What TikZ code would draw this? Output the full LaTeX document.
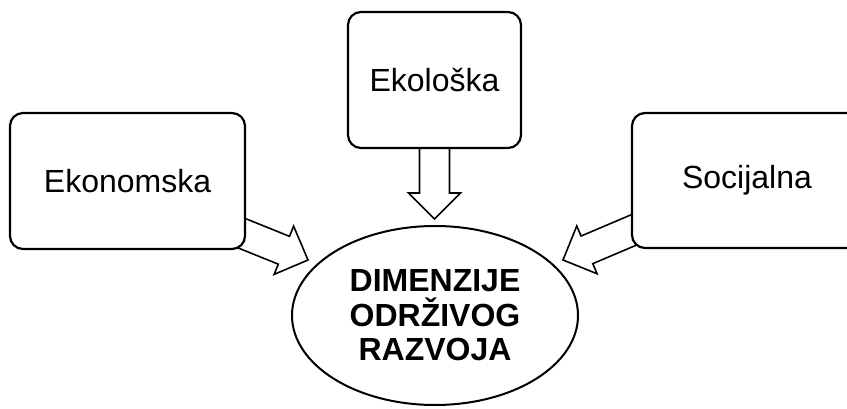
\documentclass[tikz,border=0pt]{standalone}
\usepackage{fontspec}
\setmainfont{Liberation Sans}
\usetikzlibrary{shapes.geometric}
\tikzset{
  dimbox/.style={draw, line width=2.2pt, rounded corners=13pt, fill=white, inner sep=0pt,
    font=\fontsize{32}{37}\selectfont},
  blockarrow/.pic={
    \draw[line width=1.6pt, fill=white, line join=miter]
      (-110,15) -- (-26,15) -- (-26,26) -- (0,0) -- (-26,-26) -- (-26,-15) -- (-110,-15);
  }
}
\begin{document}
\begin{tikzpicture}[x=1pt,y=1pt]
\useasboundingbox (0,0) rectangle (847,408);
% arrows first, boxes cover their tails
\coordinate (tl) at (308,148);
\coordinate (tm) at (434.5,189);
\coordinate (tr) at (563,148);
\pic[rotate=-22] at (tl) {blockarrow};
\pic[rotate=-90] at (tm) {blockarrow};
\pic[rotate=203] at (tr) {blockarrow};
\node[dimbox, minimum width=235pt, minimum height=136pt] (eko) at (127.5,227) {Ekonomska};
\node[dimbox, minimum width=173pt, minimum height=136pt] (ekol) at (434.5,328) {Ekološka};
\node[dimbox, minimum width=230pt, minimum height=135pt] (soc) at (747,227.5) {Socijalna};
\node[ellipse, draw, line width=2pt, fill=white, minimum width=286pt, minimum height=179pt,
  inner sep=0pt, align=center, font=\fontsize{32}{34.5}\selectfont\bfseries] (dim) at (435,92.5)
  {DIMENZIJE\\ODRŽIVOG\\RAZVOJA};
\end{tikzpicture}
\end{document}
